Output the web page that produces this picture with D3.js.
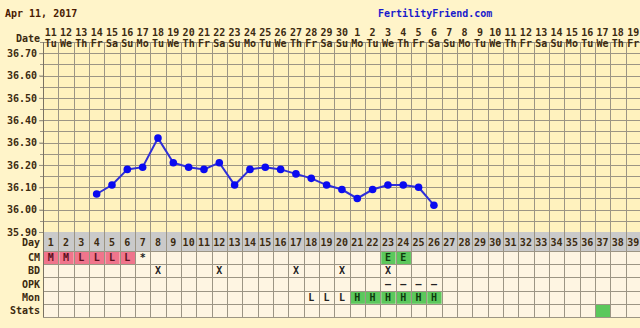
<!DOCTYPE html>
<html><head><meta charset="utf-8">
<script src="https://cdn.jsdelivr.net/npm/d3@7"></script>
<style>
html,body{margin:0;padding:0;background:#FFF4C9;}
svg{display:block;}
text{font-family:"DejaVu Sans Mono",monospace;font-weight:bold;}
</style></head>
<body><svg id="c" width="640" height="328"></svg>
<script>
const title = "Apr 11, 2017";
const site = "FertilityFriend.com";
const cycleDays = d3.range(1, 40);
const dateNums = ["11","12","13","14","15","16","17","18","19","20","21","22","23","24","25","26","27","28","29","30","1","2","3","4","5","6","7","8","9","10","11","12","13","14","15","16","17","18","19"];
const weekdays = ["Tu","We","Th","Fr","Sa","Su","Mo","Tu","We","Th","Fr","Sa","Su","Mo","Tu","We","Th","Fr","Sa","Su","Mo","Tu","We","Th","Fr","Sa","Su","Mo","Tu","We","Th","Fr","Sa","Su","Mo","Tu","We","Th","Fr"];
const tempDays = [4,5,6,7,8,9,10,11,12,13,14,15,16,17,18,19,20,21,22,23,24,25,26];
const temps = [36.07,36.11,36.18,36.19,36.32,36.21,36.19,36.18,36.21,36.11,36.18,36.19,36.18,36.16,36.14,36.11,36.09,36.05,36.09,36.11,36.11,36.10,36.02];
const yTicks = [35.90,36.00,36.10,36.20,36.30,36.40,36.50,36.60,36.70];
const rowNames = ["CM","BD","OPK","Mon","Stats"];
// cells: [row, day, text, fill]
const cmCells = [[1,"M","pink"],[2,"M","pink"],[3,"L","pink"],[4,"L","pink"],[5,"L","pink"],[6,"L","pink"],[7,"*",null],[23,"E","green"],[24,"E","green"]];
const bdCells = [[8,"X",null],[12,"X",null],[17,"X",null],[20,"X",null],[23,"X",null]];
const opkCells = [[23,"\u2013",null],[24,"\u2013",null],[25,"\u2013",null],[26,"\u2013",null]];
const monCells = [[18,"L",null],[19,"L",null],[20,"L",null],[21,"H","green"],[22,"H","green"],[23,"H","green"],[24,"H","green"],[25,"H","green"],[26,"H","green"]];
const statsCells = [[37,"","green"]];

const svg = d3.select("#c");
const colW = 15.33, x0 = 43;
const x = d3.scaleBand().domain(cycleDays).range([x0, x0 + colW*cycleDays.length]).padding(0);
const y = d3.scaleLinear().domain([35.90, 36.75]).range([232, 42]);
const rowY = d3.scaleBand().domain(rowNames).range([251, 317]);
const fills = {pink:"#F0758C", green:"#5CC85C"};
const gridCol = "#9C9584";
const txt = "#3C2A10";

// plot background
svg.append("rect").attr("x", x0).attr("y", y(36.75)).attr("width", 640 - x0).attr("height", y(35.9) - y(36.75)).attr("fill", "#FFF2BE");
// horizontal grid every 0.05
const hLines = d3.range(0, 18).map(i => +(35.90 + i*0.05).toFixed(2));
svg.append("g").selectAll("line").data(hLines).join("line")
  .attr("x1", x0 - 3).attr("x2", 640).attr("y1", d => Math.round(y(d)) + 0.5).attr("y2", d => Math.round(y(d)) + 0.5)
  .attr("stroke", gridCol).attr("stroke-width", 1);

// Day row (gray)
svg.append("rect").attr("x", x0).attr("y", 232).attr("width", 640 - x0).attr("height", 251 - 232).attr("fill", "#CACACA");
// table cells bg
svg.append("rect").attr("x", x0).attr("y", 251).attr("width", 640 - x0).attr("height", 317 - 251).attr("fill", "#FEF5E2");

// colored cells
const rowsData = [["CM", cmCells],["BD", bdCells],["OPK", opkCells],["Mon", monCells],["Stats", statsCells]];
rowsData.forEach(([name, cells]) => {
  const g = svg.append("g");
  g.selectAll("rect").data(cells.filter(c => c[2])).join("rect")
    .attr("x", d => x(d[0]) + 1).attr("y", rowY(name) + 1)
    .attr("width", x.bandwidth() - 1).attr("height", rowY.bandwidth() - 1)
    .attr("fill", d => fills[d[2]]);
  g.selectAll("text").data(cells.filter(c => c[1])).join("text")
    .attr("x", d => x(d[0]) + x.bandwidth()/2).attr("y", rowY(name) + rowY.bandwidth()/2 + 3.5)
    .attr("text-anchor", "middle").attr("font-size", 10)
    .attr("fill", d => d[2] === "pink" ? "#5A1020" : (d[2] === "green" ? "#0E3A0E" : "#222"))
    .text(d => d[1]);
});
// table horizontal lines
const tLines = [251].concat(rowNames.map(r => rowY(r) + rowY.bandwidth()));
svg.append("g").selectAll("line").data(tLines).join("line")
  .attr("x1", x0).attr("x2", 640).attr("y1", d => Math.round(d) + 0.5).attr("y2", d => Math.round(d) + 0.5)
  .attr("stroke", gridCol);

// vertical grid lines
const vLines = cycleDays.map(d => x(d));
svg.append("g").selectAll("line").data(vLines).join("line")
  .attr("x1", d => Math.round(d) + 0.5).attr("x2", d => Math.round(d) + 0.5)
  .attr("y1", 42).attr("y2", 317).attr("stroke", d => d === x0 ? "#7A7262" : gridCol);

// day numbers row
svg.append("g").selectAll("text").data(cycleDays).join("text")
  .attr("x", d => x(d) + x.bandwidth()/2).attr("y", 246)
  .attr("text-anchor", "middle").attr("font-size", 10).attr("fill", txt).text(d => d);

// y axis
const yAxis = d3.axisLeft(y).tickValues(yTicks).tickFormat(d3.format(".2f")).tickSize(4).tickPadding(2);
const ya = svg.append("g").attr("transform", `translate(${x0},0)`).call(yAxis);
ya.select(".domain").remove();
ya.selectAll("line").attr("stroke", gridCol);
ya.selectAll("text").attr("font-size", 10).attr("fill", txt).attr("font-family", "DejaVu Sans Mono").attr("font-weight", "bold");

// row labels
svg.append("g").selectAll("text").data(["Day"].concat(rowNames)).join("text")
  .attr("x", 40).attr("y", d => d === "Day" ? 246 : rowY(d) + rowY.bandwidth()/2 + 3.5)
  .attr("text-anchor", "end").attr("font-size", 10).attr("fill", txt).text(d => d);

// date header
svg.append("text").attr("x", 40).attr("y", 42).attr("text-anchor", "end").attr("font-size", 10).attr("fill", txt).text("Date");
svg.append("g").selectAll("text").data(cycleDays).join("text")
  .attr("x", d => x(d) + x.bandwidth()/2).attr("y", 36)
  .attr("text-anchor", "middle").attr("font-size", 10).attr("fill", txt).text((d, i) => dateNums[i]);
svg.append("g").selectAll("text").data(cycleDays).join("text")
  .attr("x", d => x(d) + x.bandwidth()/2).attr("y", 47)
  .attr("text-anchor", "middle").attr("font-size", 10).attr("fill", txt).text((d, i) => weekdays[i]);

// title texts
svg.append("text").attr("x", 5).attr("y", 17).attr("font-size", 10).attr("fill", "#4A1A00").text(title);
svg.append("text").attr("x", 378).attr("y", 17).attr("font-size", 10).attr("fill", "#1A1ACC").text(site);

// temperature line
const pts = tempDays.map((d, i) => [x(d) + x.bandwidth()/2, y(temps[i])]);
svg.append("path").attr("d", d3.line()(pts)).attr("fill", "none").attr("stroke", "#2F2FD8").attr("stroke-width", 2);
svg.append("g").selectAll("circle").data(pts).join("circle")
  .attr("cx", d => d[0]).attr("cy", d => d[1]).attr("r", 3.8).attr("fill", "#0A0AF0");
</script></body></html>
